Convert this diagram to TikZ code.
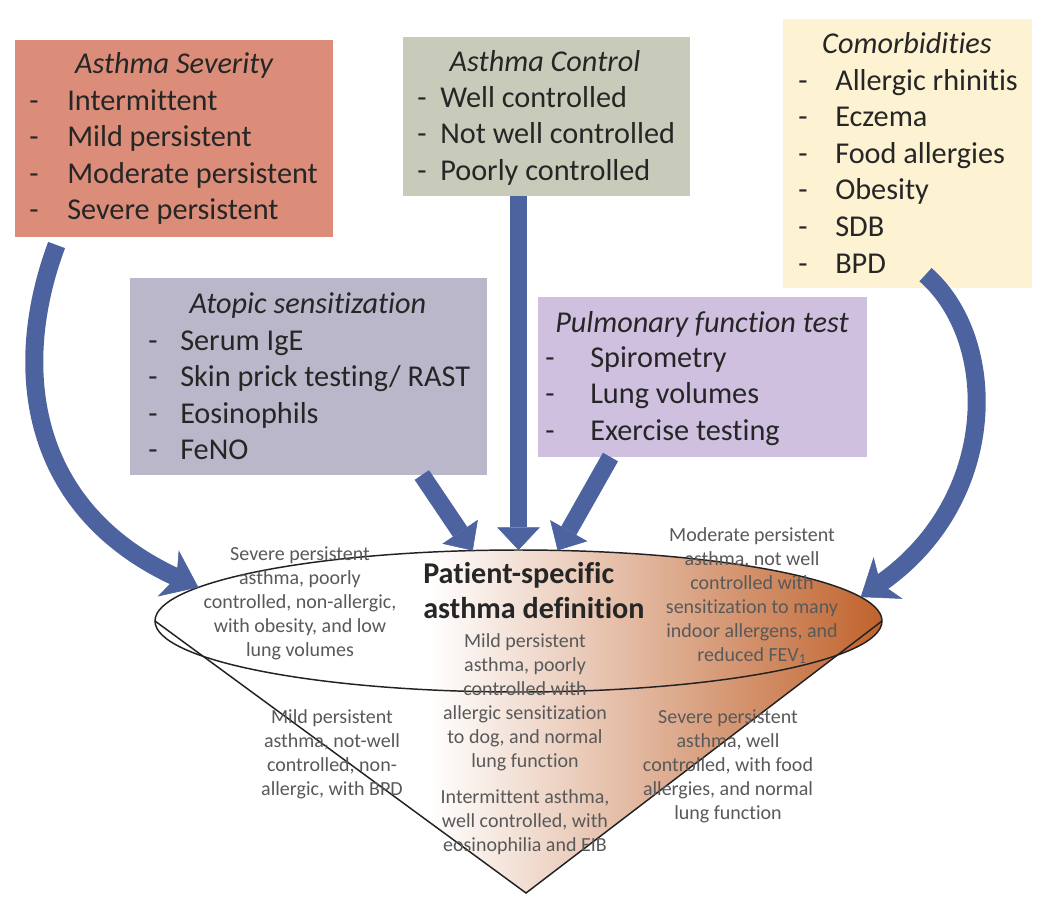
\documentclass[tikz,border=0pt]{standalone}
\usepackage{fontspec}
\setmainfont[Ligatures=NoCommon]{Carlito}
\usetikzlibrary{arrows.meta,shapes.geometric}
\definecolor{sevcol}{HTML}{DB8D7A}
\definecolor{concol}{HTML}{C9CBBA}
\definecolor{comcol}{HTML}{FDF2D2}
\definecolor{atocol}{HTML}{B9B7C9}
\definecolor{pftcol}{HTML}{D0C0E0}
\definecolor{arrcol}{HTML}{4C63A0}
\definecolor{conebrown}{HTML}{C0622C}
\definecolor{boxtext}{HTML}{262626}
\definecolor{conetext}{HTML}{595959}
\definecolor{edgecol}{HTML}{222222}
\tikzset{
  box/.style={inner sep=0pt, outer sep=0pt, anchor=north west, draw=none},
  item/.style={anchor=base west, inner sep=0pt, font=\fontsize{22.7}{27}\selectfont, text=boxtext},
  boxtitle/.style={anchor=base, inner sep=0pt, font=\fontsize{22.7}{27}\selectfont\itshape, text=boxtext},
  ctext/.style={anchor=base, inner sep=0pt, font=\fontsize{15}{18}\selectfont, text=conetext},
  deftitle/.style={anchor=base west, inner sep=0pt, font=\fontsize{22.6}{27}\selectfont\bfseries, text=boxtext},
  outline/.style={draw=edgecol, line width=1.1pt},
  sarr/.style={draw=arrcol, line width=13pt, -{Triangle[length=17pt,width=32pt,line width=0.4pt]}},
  carr/.style={draw=arrcol, line width=13.5pt, -{Stealth[length=25pt,width=38pt,inset=7pt,line width=0.4pt]}}
}
\newcommand\itemlist[5]{%
  \foreach \t [count=\i] in {#5}{%
    \node[item] (#1d\i) at (#2,{#4+36.6*(\i-1)}) {-};
    \node[item] (#1t\i) at (#3,{#4+36.6*(\i-1)}) {\t};
  }}
\newcommand\coneblock[4]{%
  \foreach \t [count=\i] in {#4}{%
    \node[ctext] (#1\i) at (#2,{#3+24*(\i-1)}) {\t};
  }}
\begin{document}
\begin{tikzpicture}[x=0.75pt,y=-0.75pt]
\useasboundingbox (0,0) rectangle (1050,915);
\fill[white] (0,0) rectangle (1050,915);

% boxes
\node[box, fill=sevcol, minimum width=238.5pt, minimum height=147.75pt] (sev) at (15,40) {};
\node[box, fill=concol, minimum width=215.25pt, minimum height=119.25pt] (con) at (403,37) {};
\node[box, fill=comcol, minimum width=186.75pt, minimum height=201.75pt] (com) at (783,19) {};
\node[box, fill=atocol, minimum width=267.75pt, minimum height=147.75pt] (ato) at (130,278) {};
\node[box, fill=pftcol, minimum width=246.75pt, minimum height=120pt] (pft) at (538,297) {};

\node[boxtitle] (sevT) at (174,73) {Asthma Severity};
\node[boxtitle] (conT) at (545,71) {Asthma Control};
\node[boxtitle] (comT) at (907,53) {Comorbidities};
\node[boxtitle] (atoT) at (308,313) {Atopic sensitization};
\node[boxtitle] (pftT) at (702,332) {Pulmonary function test};

\itemlist{sev}{29}{67}{110}{Intermittent,Mild persistent,Moderate persistent,Severe persistent}
\itemlist{con}{417}{440}{107}{Well controlled,Not well controlled,Poorly controlled}
\itemlist{com}{798}{835}{90}{Allergic rhinitis,Eczema,Food allergies,Obesity,SDB,BPD}
\itemlist{ato}{148}{180}{350}{Serum IgE,Skin prick testing/ RAST,Eosinophils,FeNO}
\itemlist{pft}{545}{590}{367}{Spirometry,Lung volumes,Exercise testing}

% cone
\node[ellipse, inner sep=0pt, outer sep=0pt, minimum width=545.25pt, minimum height=106.5pt] (def) at (518.5,621) {};
\coordinate (apex) at (526,893);
\begin{scope}
  \clip (518.5,621) ellipse [x radius=363.5, y radius=71];
  \shade[left color=white, right color=conebrown] (430,540) rectangle (884,705);
\end{scope}
\begin{scope}
  \clip (def.west) -- (apex) -- (def.east) -- cycle;
  \shade[left color=white, right color=conebrown] (430,600) rectangle (884,900);
\end{scope}
\draw[outline] (518.5,621) ellipse [x radius=363.5, y radius=71];
\draw[outline, line join=miter] (def.west) -- (apex) -- (def.east);

% cone texts
\node[deftitle] (defT1) at (423,583) {Patient-specific};
\node[deftitle] (defT2) at (423,618) {asthma definition};
\coneblock{ltop}{300}{560}{Severe persistent,{asthma, poorly},{controlled, non-allergic,},{with obesity, and low},lung volumes}
\coneblock{rtop}{752}{541}{Moderate persistent,{asthma, not well},controlled with,sensitization to many,{indoor allergens, and},reduced FEV\textsubscript{1}}
\coneblock{mid}{525}{647}{Mild persistent,{asthma, poorly},controlled with,allergic sensitization,{to dog, and normal},lung function}
\coneblock{low}{525}{803}{{Intermittent asthma,},{well controlled, with},eosinophilia and EIB}
\coneblock{lbot}{332}{723}{Mild persistent,{asthma, not-well},{controlled, non-},{allergic, with BPD}}
\coneblock{rbot}{728}{723}{Severe persistent,{asthma, well},{controlled, with food},{allergies, and normal},lung function}

% arrows
\draw[sarr] (def.north |- con.south) -- (def.north);
\draw[sarr] (ato.319) -- (def.123);
\draw[sarr] (pft.221) -- (def.61);
\draw[carr] ([yshift=-6pt]sev.220) .. controls (10,370) and (30,510) .. (def.174);
\draw[carr] ([xshift=13.5pt,yshift=10pt]com.south) .. controls (1000,340) and (1000,500) .. (def.4);
\end{tikzpicture}
\end{document}
